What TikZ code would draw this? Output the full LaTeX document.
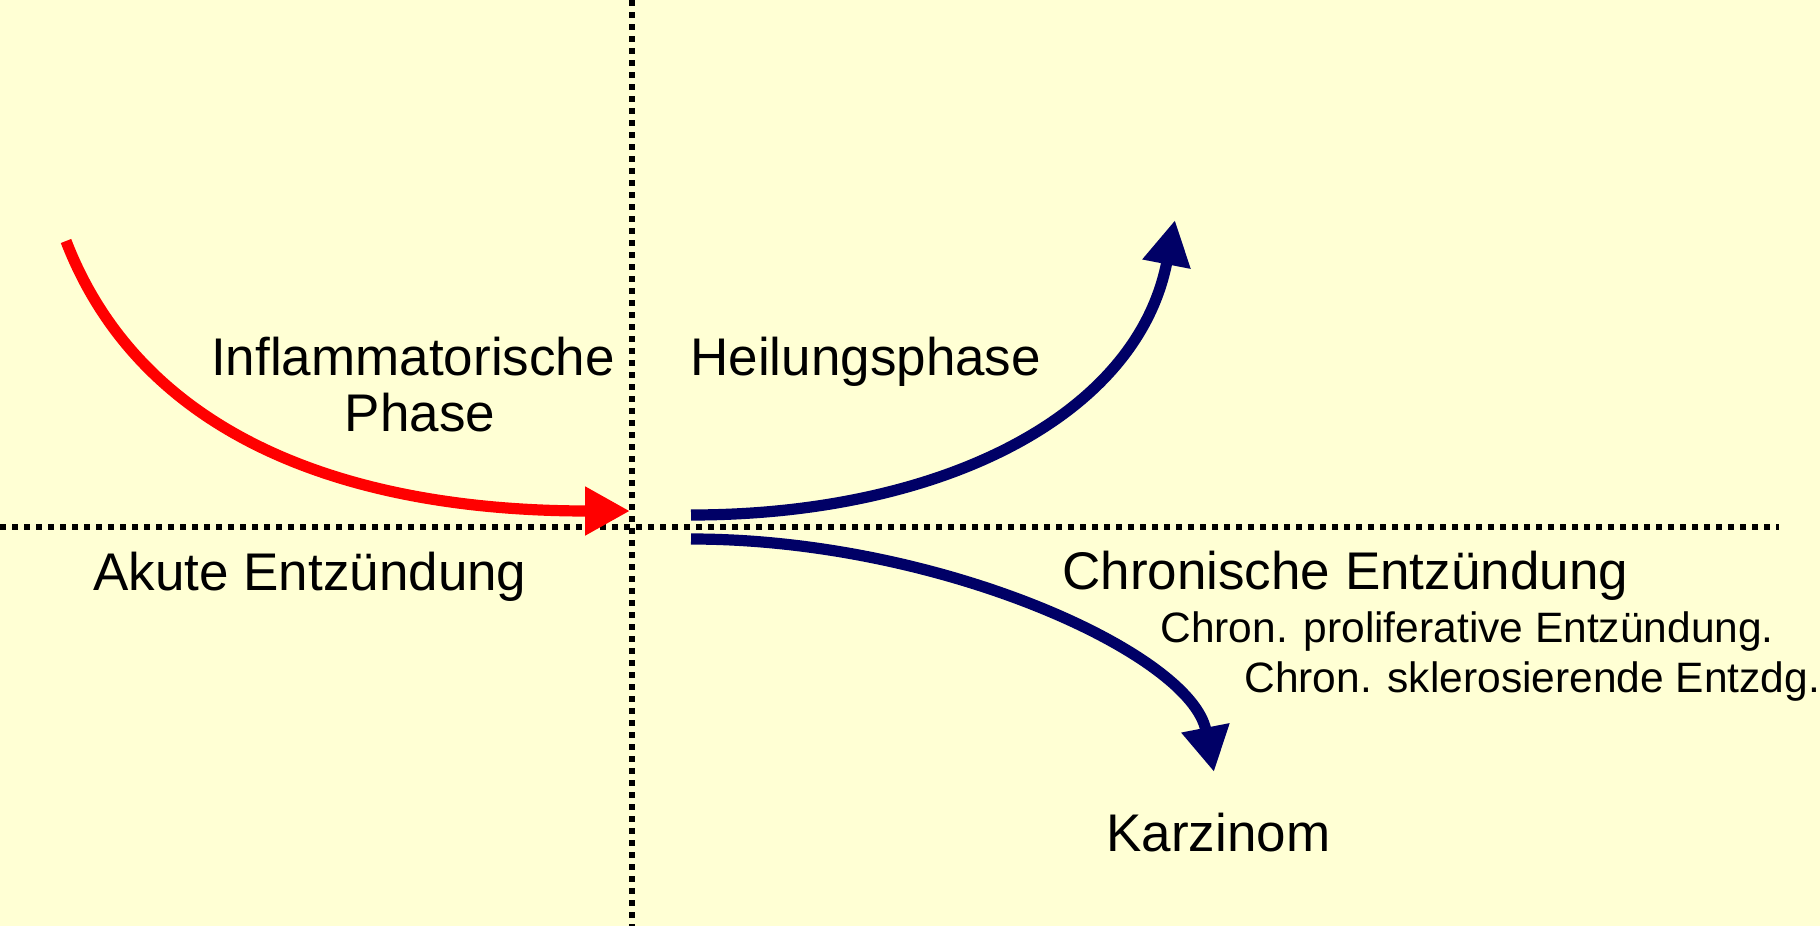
\documentclass[tikz,border=0pt]{standalone}
\usepackage{fontspec}
\setmainfont{Liberation Sans}
\usetikzlibrary{arrows.meta}
\definecolor{bg}{RGB}{255,255,212}
\definecolor{navy}{RGB}{0,0,102}
\definecolor{flamered}{RGB}{255,0,0}
\begin{document}
\begin{tikzpicture}[x=0.5pt,y=-0.5pt,
  bigtext/.style={inner sep=0pt, font=\fontsize{26.5}{28}\selectfont},
  smalltext/.style={inner sep=0pt, anchor=base west, font=\fontsize{21.25}{23}\selectfont},
  dotline/.style={line width=2.9pt, dash pattern=on 2.9pt off 3.1pt},
  flow/.style={line width=5.6pt, -{Triangle[length=22.5pt,width=23pt]}},
]
\fill[bg] (0,0) rectangle (1820,926);
\useasboundingbox (0,0) rectangle (1820,926);
% axes
\coordinate (vtop) at (632,0);
\coordinate (vbot) at (632,926);
\coordinate (hl) at (0,527);
\coordinate (hr) at (1779,527);
\draw[dotline] (vtop) -- (vbot);
\draw[dotline] (hl) -- (hr);
% arrows
\coordinate (rs) at (66,241);
\coordinate (re) at (630,511);
\draw[flow, flamered] (rs) .. controls (142,438) and (350,511) .. (re);
\coordinate (us) at (691,515);
\coordinate (ue) at (1175,220);
\draw[flow, navy] (us) .. controls (941,515) and (1137,416) .. (ue);
\coordinate (ls) at (691,539);
\coordinate (le) at (1214,772);
\draw[flow, navy] (ls) .. controls (941,539) and (1191,654) .. (le);
% texts
\node[bigtext, anchor=base] (infl) at (413,375) {Inflammatorische};
\node[bigtext, anchor=base] (phase) at (420,431) {Phase};
\node[bigtext, anchor=base west] (heil) at (690,375) {Heilungsphase};
\node[bigtext, anchor=base west] (akut) at (93,590) {Akute Entzündung};
\node[bigtext, anchor=base west] (chron) at (1062,589) {Chronische Entzündung};
\node[smalltext] (prolif) at (1160,642) {Chron. proliferative Entzündung.};
\node[smalltext] (skler) at (1244,692) {Chron. sklerosierende Entzdg.};
\node[bigtext, anchor=base west] (karz) at (1106,851) {Karzinom};
\end{tikzpicture}
\end{document}
